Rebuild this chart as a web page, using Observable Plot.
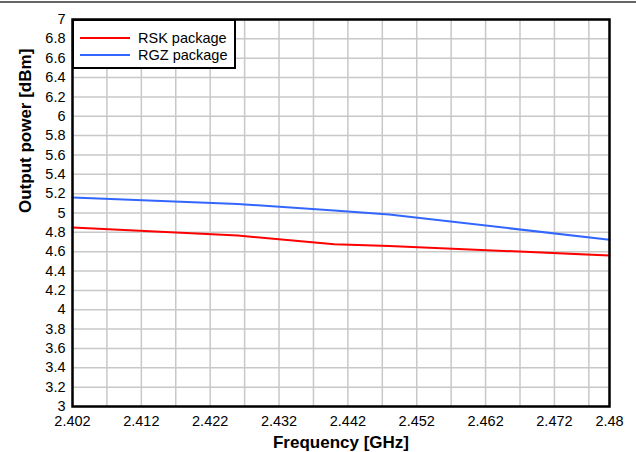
<!DOCTYPE html>
<html>
<head>
<meta charset="utf-8">
<script src="https://cdn.jsdelivr.net/npm/d3@7"></script>
<script src="https://cdn.jsdelivr.net/npm/@observablehq/plot@0.6"></script>
<style>
  html, body { margin: 0; padding: 0; background: #fff; }
  #wrap { position: relative; width: 636px; height: 452px; font-family: "Liberation Sans", Arial, sans-serif; }
  #topline { position: absolute; left: 0; top: 1px; width: 636px; height: 2px; background: #666; }
  #legend { position: absolute; left: 72px; top: 19px; width: 160px; height: 46px; border: 2.5px solid #000; background: #fff; box-sizing: content-box; font-size: 14.5px; color: #000; }
  .row { position: absolute; left: 0; height: 17px; display: flex; align-items: center; }
  .swatch { width: 50px; height: 2px; margin-left: 6px; margin-right: 8px; }
</style>
</head>
<body>
<div id="wrap"><div id="topline"></div></div>
<script>
const freq = [2.402, 2.426, 2.440, 2.448, 2.480];
const rsk = [4.85, 4.767, 4.678, 4.66, 4.56];
const rgz = [5.16, 5.094, 5.026, 4.985, 4.723];
const seriesNames = ["RSK package", "RGZ package"];
const seriesColors = ["#ff0000", "#3366ff"];
const xTickLabels = [2.402, 2.412, 2.422, 2.432, 2.442, 2.452, 2.462, 2.472, 2.48];
const xGrid = [2.402, 2.407, 2.412, 2.417, 2.422, 2.427, 2.432, 2.437, 2.442, 2.447, 2.452, 2.457, 2.462, 2.467, 2.472, 2.477, 2.48];
const yTicks = [3, 3.2, 3.4, 3.6, 3.8, 4, 4.2, 4.4, 4.6, 4.8, 5, 5.2, 5.4, 5.6, 5.8, 6, 6.2, 6.4, 6.6, 6.8, 7];
const xTitle = "Frequency [GHz]";
const yTitle = "Output power [dBm]";

const rskData = freq.map((f, i) => ({f, v: rsk[i]}));
const rgzData = freq.map((f, i) => ({f, v: rgz[i]}));

const chart = Plot.plot({
  width: 636,
  height: 452,
  marginLeft: 72,
  marginRight: 27,
  marginTop: 19,
  marginBottom: 46,
  style: {fontFamily: "Liberation Sans, Arial, sans-serif", fontSize: "14.5px", color: "#000", background: "#fff"},
  x: {domain: [2.402, 2.48]},
  y: {domain: [3, 7]},
  marks: [
    Plot.gridX(xGrid, {stroke: "#c8c8c8", strokeOpacity: 1, strokeWidth: 1.5}),
    Plot.gridY(yTicks, {stroke: "#c8c8c8", strokeOpacity: 1, strokeWidth: 1.5}),
    Plot.axisX(xTickLabels, {tickSize: 0, tickPadding: 9, label: null, tickFormat: d => String(d), fontSize: 14.5}),
    Plot.axisY(yTicks, {tickSize: 0, tickPadding: 7, label: null, tickFormat: d => String(d), fontSize: 14.5}),
    Plot.line(rskData, {x: "f", y: "v", stroke: seriesColors[0], strokeWidth: 2}),
    Plot.line(rgzData, {x: "f", y: "v", stroke: seriesColors[1], strokeWidth: 2}),
    Plot.frame({stroke: "#000", strokeWidth: 2.5}),
    Plot.text([xTitle], {frameAnchor: "bottom", dy: 36, lineAnchor: "middle", fontWeight: "bold", fontSize: 17, fill: "#000"}),
    Plot.text([yTitle], {frameAnchor: "left", dx: -47, rotate: -90, lineAnchor: "middle", fontWeight: "bold", fontSize: 17, fill: "#000"})
  ]
});

const wrap = document.getElementById("wrap");
wrap.insertBefore(chart, wrap.firstChild);

const legend = document.createElement("div");
legend.id = "legend";
seriesNames.forEach((name, i) => {
  const row = document.createElement("div");
  row.className = "row";
  row.style.top = (8 + i * 17) + "px";
  const sw = document.createElement("div");
  sw.className = "swatch";
  sw.style.background = seriesColors[i];
  const label = document.createElement("span");
  label.textContent = name;
  row.appendChild(sw);
  row.appendChild(label);
  legend.appendChild(row);
});
wrap.appendChild(legend);
</script>
</body>
</html>
